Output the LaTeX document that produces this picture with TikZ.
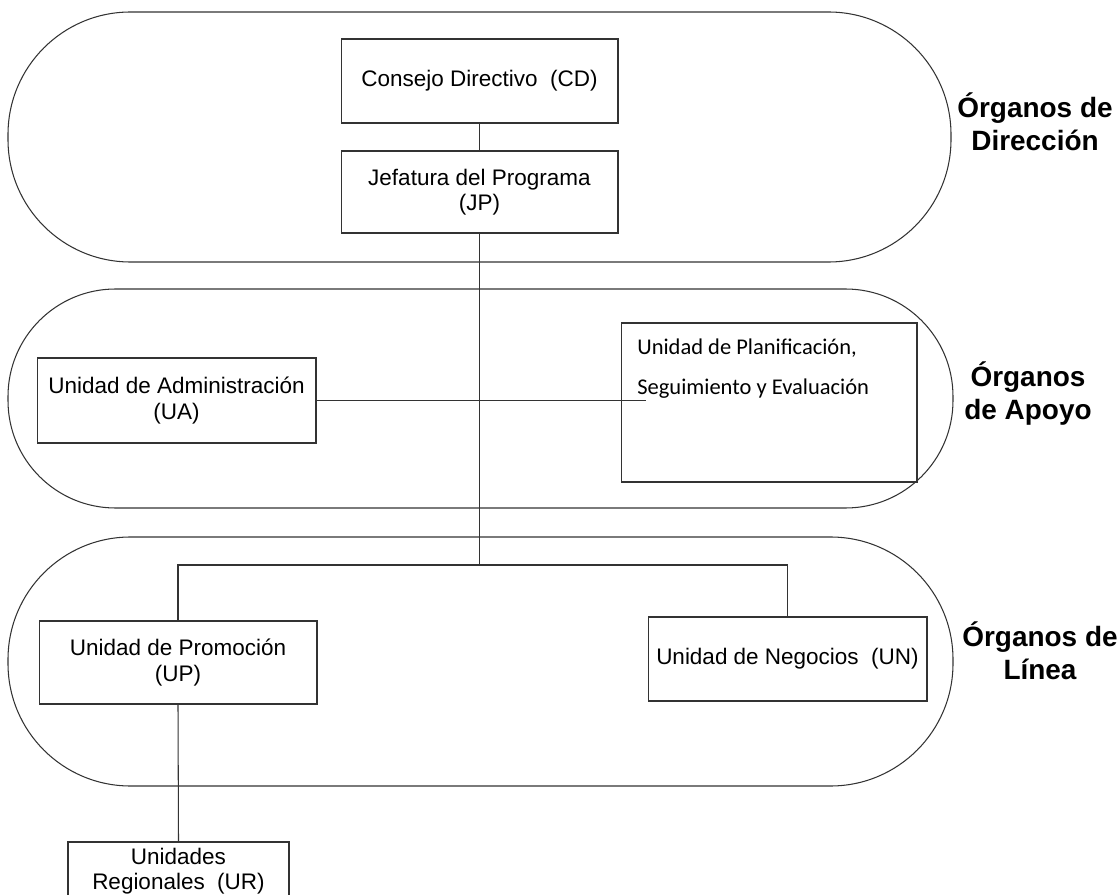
\documentclass[tikz,border=0pt]{standalone}
\usepackage{fontspec}
\setmainfont{Liberation Sans}
\newfontfamily\calibri{Carlito}
\usetikzlibrary{positioning}

\begin{document}
\begin{tikzpicture}[x=0.02cm,y=-0.02cm]
	\tikzstyle{capsula}=[draw=black!80,line width=0.6pt]
	\tikzstyle{unidad}=[rectangle,draw=black!80,line width=0.6pt,inner sep=0pt,align=center,font=\fontsize{12.8pt}{14.5pt}\selectfont]
	\tikzstyle{organo}=[align=center,font=\bfseries\fontsize{15.9pt}{18.8pt}\selectfont]
	\tikzstyle{enlace}=[draw=black!80,line width=0.6pt]
	\useasboundingbox (0,0) rectangle (1120,895);

	% grupos
	\draw[capsula,rounded corners=2.45cm] (8,12) rectangle (951,262);
	\draw[capsula,rounded corners=2.15cm] (8,289) rectangle (953,508);
	\draw[capsula,rounded corners=2.45cm] (8,537) rectangle (953,786);

	\node[organo] (direccion) at (1035,122) {Órganos de\\Dirección};
	\node[organo] (apoyo) at (1028,394) {Órganos\\de Apoyo};
	\node[organo] (linea) at (1040,651) {Órganos de\\Línea};

	% unidades
	\node[unidad,minimum width=5.54cm,minimum height=1.68cm] (cd) at (479.5,81) {Consejo Directivo\ \ (CD)};
	\node[unidad,minimum width=5.54cm,minimum height=1.64cm] (jp) at (479.5,192) {Jefatura del Programa\\(JP)};
	\node[unidad,minimum width=5.58cm,minimum height=1.70cm] (ua) at (176.5,400.5) {Unidad de Administración\\(UA)};
	\node[unidad,minimum width=5.92cm,minimum height=3.18cm] (upse) at (769,402.5) {};
	\node[anchor=north west,inner sep=0pt,align=left,font=\calibri\fontsize{12.8pt}{22.7pt}\selectfont] (upsetxt) at (637,339) {Unidad de Planificación,\\Seguimiento y Evaluación};
	\node[unidad,minimum width=5.56cm,minimum height=1.66cm] (up) at (178,662.5) {Unidad de Promoción\\(UP)};
	\node[unidad,minimum width=5.58cm,minimum height=1.68cm] (un) at (787.5,659) {Unidad de Negocios\ \ (UN)};
	\node[unidad,minimum width=4.42cm,minimum height=1.16cm] (ur) at (178.5,871) {Unidades\\Regionales\ \ (UR)};

	% lineas
	\coordinate (bus) at (jp.south |- 0,565);
	\coordinate (upsein) at (646,0 |- ua.east);
	\draw[enlace] (cd) -- (jp);
	\draw[enlace] (jp.south) -- (bus);
	\draw[enlace] (ua.east) -- (upsein);
	\draw[enlace] (up.north) |- (bus) -| (un.north);
	\draw[enlace] (up.south) -- (ur.north);
\end{tikzpicture}
\end{document}
